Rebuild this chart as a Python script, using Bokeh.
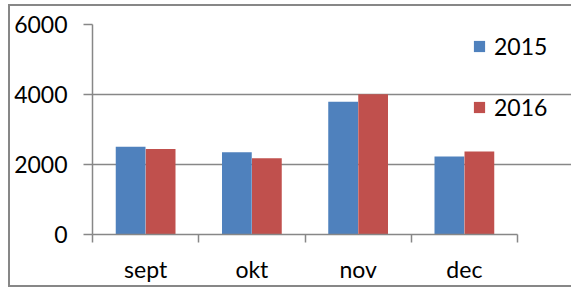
from bokeh.plotting import figure
from bokeh.models import (Range1d, FixedTicker, LinearAxis, Legend, LegendItem,
                          ColumnDataSource)
from bokeh.embed import file_html
from bokeh.resources import INLINE

# ---- data ----
months = ["sept", "okt", "nov", "dec"]
series_names = ["2015", "2016"]
values_2015 = [2510, 2350, 3790, 2230]
values_2016 = [2440, 2180, 4010, 2370]
y_ticks = [0, 2000, 4000, 6000]

BLUE = "#4F81BD"
RED = "#C0504D"
GRAY = "#878787"
FONT = "Lato"
FS = "23px"

n = len(months)
centers = [i + 0.5 for i in range(n)]
bar_w = 0.28
off = 0.1412

src15 = ColumnDataSource(dict(x=[c - off for c in centers], top=values_2015))
src16 = ColumnDataSource(dict(x=[c + off for c in centers], top=values_2016))

# frame spans 92..571 px; category area occupies 92..517 px
x_end = n * (571 - 92) / (517 - 92)

p = figure(width=571, height=289, output_backend="svg", toolbar_location=None,
           x_range=Range1d(0, x_end), y_range=Range1d(0, 6000),
           x_axis_location=None, y_axis_location=None,
           min_border_left=92, min_border_right=0, min_border_top=24,
           min_border_bottom=55)
p.outline_line_color = None
p.border_fill_color = None
p.background_fill_color = None
g = f"linear-gradient({GRAY},{GRAY})"
p.styles = {
    "background-image": f"{g}, {g}, {g}",
    "background-position": "8px 4px, 8px 4px, 8px 285px",
    "background-size": "100% 2px, 2px 283px, 100% 2px",
    "background-repeat": "no-repeat",
}

r15 = p.vbar(x="x", top="top", width=bar_w, bottom=0, source=src15,
             fill_color=BLUE, line_color=None)
r16 = p.vbar(x="x", top="top", width=bar_w, bottom=0, source=src16,
             fill_color=RED, line_color=None)

# y axis
yax = LinearAxis(ticker=FixedTicker(ticks=y_ticks))
yax.axis_line_color = GRAY
yax.axis_line_width = 1.5
yax.major_tick_line_color = GRAY
yax.major_tick_line_width = 1.5
yax.major_tick_out = 9
yax.major_tick_in = 0
yax.minor_tick_line_color = None
yax.major_label_standoff = 16
yax.major_label_text_font = FONT
yax.major_label_text_font_size = FS
yax.major_label_text_color = "black"
p.add_layout(yax, "left")

# x axis: labels at category centres, ticks at boundaries
xax = LinearAxis(ticker=FixedTicker(ticks=centers, minor_ticks=list(range(n + 1))))
xax.bounds = (0, n)
xax.major_label_overrides = {c: m for c, m in zip(centers, months)}
xax.axis_line_color = GRAY
xax.axis_line_width = 1.5
xax.major_tick_line_color = None
xax.major_tick_out = 8
xax.major_tick_in = 0
xax.minor_tick_line_color = GRAY
xax.minor_tick_line_width = 1.5
xax.minor_tick_out = 8
xax.minor_tick_in = 0
xax.major_label_standoff = 12
xax.major_label_text_font = FONT
xax.major_label_text_font_size = FS
xax.major_label_text_color = "black"
p.add_layout(xax, "below")

p.xgrid.visible = False
p.ygrid.ticker = FixedTicker(ticks=y_ticks)
p.ygrid.bounds = (0, n)
p.ygrid.grid_line_color = GRAY
p.ygrid.grid_line_width = 1.5

legend = Legend(items=[LegendItem(label=series_names[0], renderers=[r15]),
                       LegendItem(label=series_names[1], renderers=[r16])],
                location=(380, 113), orientation="vertical")
legend.glyph_width = 14
legend.glyph_height = 14
legend.label_standoff = 8
legend.label_text_font = FONT
legend.label_text_font_size = FS
legend.label_text_color = "black"
legend.spacing = 33
legend.padding = 0
legend.margin = 0
legend.border_line_color = None
legend.background_fill_color = None
legend.background_fill_alpha = 0
p.add_layout(legend, "center")

open("out.html", "w").write(file_html(p, INLINE))
